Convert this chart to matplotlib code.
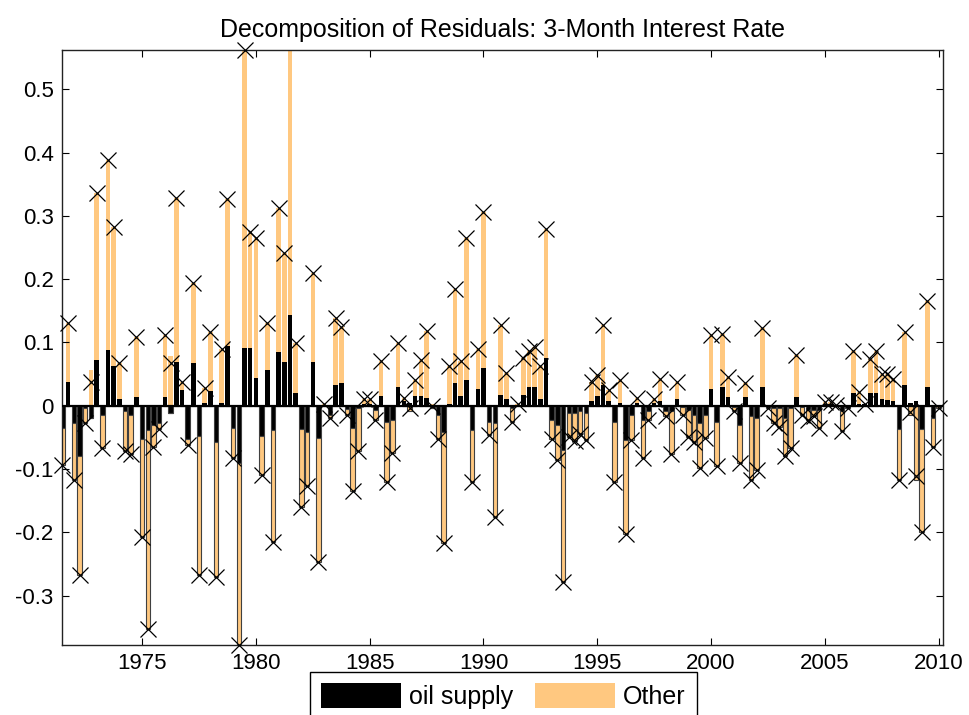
import numpy as np
import matplotlib
matplotlib.use("Agg")
import matplotlib.pyplot as plt
from matplotlib.ticker import FixedLocator

plt.rcParams["font.family"] = ["Liberation Sans", "DejaVu Sans"]

# quarterly residuals, 1971Q3 .. 2010Q1
start_year = 1971.5
oil_supply = [
    -0.035, 0.037, -0.028, -0.079, -0.004, -0.020, 0.073, -0.014, 0.088, 0.063,
    0.010, -0.009, -0.014, 0.014, -0.052, -0.039, -0.031, -0.028, 0.014, -0.011,
    0.069, 0.025, -0.052, 0.067, -0.048, 0.004, 0.023, -0.057, 0.004, 0.094,
    -0.035, -0.090, 0.091, 0.091, 0.044, -0.048, 0.057, -0.039, 0.085, 0.069,
    0.144, 0.020, -0.036, -0.042, 0.069, -0.051, 0.000, -0.014, 0.032, 0.036,
    -0.005, -0.035, -0.004, 0.003, 0.003, -0.006, 0.015, -0.025, -0.022, 0.030,
    0.008, 0.005, 0.015, 0.015, 0.012, -0.003, -0.014, -0.042, 0.002, 0.036,
    0.015, 0.041, -0.038, 0.026, 0.060, -0.026, -0.027, 0.017, 0.011, -0.003,
    0.000, 0.017, 0.029, 0.029, 0.010, 0.076, -0.023, -0.031, -0.070, -0.011,
    -0.011, -0.009, -0.011, 0.008, 0.015, 0.033, 0.008, -0.025, 0.005, -0.054,
    -0.014, 0.004, -0.022, -0.009, 0.004, 0.007, -0.009, -0.009, 0.011, -0.002,
    -0.007, -0.014, -0.027, -0.014, 0.026, -0.026, 0.029, 0.014, -0.002, -0.030,
    0.014, -0.017, -0.020, 0.029, -0.002, -0.004, -0.003, -0.020, -0.003, 0.014,
    -0.002, -0.006, -0.006, -0.006, 0.002, 0.002, 0.000, -0.009, -0.003, 0.020,
    0.003, 0.002, 0.020, 0.020, 0.010, 0.009, 0.007, -0.036, 0.032, 0.005,
    0.007, -0.036, 0.029, -0.020, 0.000,
]
other = [
    -0.059, 0.093, -0.089, -0.189, -0.024, 0.057, 0.263, -0.053, 0.300, 0.219,
    0.058, -0.062, -0.063, 0.094, -0.155, -0.314, -0.034, -0.009, 0.097, 0.079,
    0.259, 0.012, -0.010, 0.127, -0.220, 0.024, 0.094, -0.213, 0.086, 0.232,
    -0.048, -0.288, 0.471, 0.184, 0.221, -0.062, 0.073, -0.177, 0.228, 0.172,
    0.496, 0.079, -0.124, -0.085, 0.141, -0.196, 0.003, -0.006, 0.107, 0.089,
    -0.009, -0.100, -0.068, 0.007, 0.007, -0.016, 0.055, -0.095, -0.052, 0.069,
    0.004, -0.008, 0.026, 0.058, 0.106, 0.003, -0.039, -0.175, 0.060, 0.149,
    0.055, 0.224, -0.083, 0.064, 0.246, -0.020, -0.148, 0.111, 0.040, -0.022,
    0.002, 0.058, 0.057, 0.064, 0.052, 0.203, -0.029, -0.055, -0.209, -0.039,
    -0.045, -0.036, -0.043, 0.030, 0.034, 0.094, 0.017, -0.095, 0.036, -0.148,
    -0.040, 0.008, -0.061, -0.013, 0.006, 0.035, -0.008, -0.068, 0.027, -0.012,
    -0.043, -0.044, -0.072, -0.037, 0.085, -0.069, 0.084, 0.032, -0.006, -0.060,
    0.022, -0.100, -0.082, 0.094, -0.001, -0.024, -0.031, -0.059, -0.064, 0.066,
    -0.013, -0.017, -0.010, -0.029, 0.004, 0.004, 0.001, -0.031, 0.000, 0.066,
    0.019, 0.000, 0.054, 0.066, 0.040, 0.041, 0.036, -0.081, 0.085, -0.015,
    -0.118, -0.164, 0.136, -0.045, -0.003,
]
year_ticks = [1975, 1980, 1985, 1990, 1995, 2000, 2005, 2010]
y_ticks = [-0.3, -0.2, -0.1, 0, 0.1, 0.2, 0.3, 0.4, 0.5]
y_tick_labels = ["-0.3", "-0.2", "-0.1", "0", "0.1", "0.2", "0.3", "0.4", "0.5"]

oil = np.array(oil_supply)
oth = np.array(other)
x = start_year + 0.25 * np.arange(len(oil))
total = oil + oth

orange = "#FFC880"
width = 0.2
ylo, yhi = -0.378, 0.562

oil_pos = np.where(oil > 0, oil, 0)
oil_neg = np.where(oil < 0, oil, 0)
oth_pos = np.where(oth > 0, oth, 0)
oth_neg = np.where(oth < 0, oth, 0)

fig = plt.figure(figsize=(9.69, 7.15), dpi=100)
ax = fig.add_axes([62 / 969, 1 - 645 / 715, 881 / 969, 595 / 715])

b_oil = ax.bar(x, oil_pos, width, color="black", linewidth=0, label="oil supply")
b_oth = ax.bar(x, oth_pos, width, bottom=oil_pos, color=orange, linewidth=0, label="Other")
ax.bar(x, oil_neg, width, color="black", edgecolor="#404040", linewidth=0.8)
ax.bar(x, oth_neg, width, bottom=oil_neg, color=orange, edgecolor="#404040", linewidth=0.8)
ax.axhline(0, color="black", linewidth=1.6, zorder=3)

vis = (total >= ylo - 1e-9) & (total <= yhi + 1e-9)
ax.plot(x[vis], total[vis], linestyle="none", marker="x", markersize=12,
        markeredgewidth=0.9, color="black", clip_on=False, zorder=4)

ax.set_xlim(1971.48, 2010.19)
ax.set_ylim(ylo, yhi)
ax.xaxis.set_major_locator(FixedLocator(year_ticks))
ax.set_xticklabels([str(y) for y in year_ticks])
ax.set_yticks(y_ticks)
ax.set_yticklabels(y_tick_labels)
ax.tick_params(direction="in", length=5, width=0.8, labelsize=16,
               top=True, right=True, pad=6)
for s in ax.spines.values():
    s.set_linewidth(1.0)
    s.set_color("#222222")

ax.set_title("Decomposition of Residuals: 3-Month Interest Rate", fontsize=18, pad=9)

leg = fig.legend([b_oil, b_oth], ["oil supply", "Other"], loc="upper left",
                 bbox_to_anchor=(310 / 969, 1 - 672 / 715), ncol=2, fontsize=18,
                 frameon=True, fancybox=False, edgecolor="black", framealpha=1,
                 borderaxespad=0, borderpad=0.45, handlelength=3.2, handleheight=1.15,
                 handletextpad=0.3, columnspacing=0.9)
leg.get_frame().set_linewidth(1.0)

fig.savefig("out.png", dpi=100)
